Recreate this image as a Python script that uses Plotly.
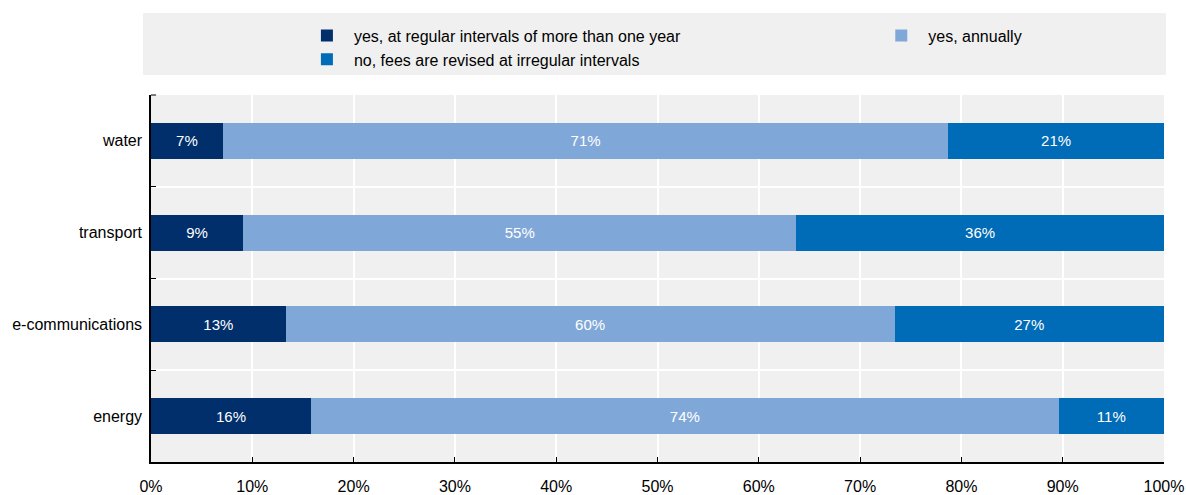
import plotly.graph_objects as go

categories = ["energy", "e-communications", "transport", "water"]
series_names = [
    "yes, at regular intervals of more than one year",
    "yes, annually",
    "no, fees are revised at irregular intervals",
]
regular_multi_year = [15.8, 13.3, 9.1, 7.1]
annually = [73.8, 60.1, 54.6, 71.6]
irregular = [10.4, 26.6, 36.3, 21.3]
labels_regular = ["16%", "13%", "9%", "7%"]
labels_annually = ["74%", "60%", "55%", "71%"]
labels_irregular = ["11%", "27%", "36%", "21%"]
x_ticks = [0, 10, 20, 30, 40, 50, 60, 70, 80, 90, 100]
x_tick_labels = [f"{v}%" for v in x_ticks]

colors = ["#002F6C", "#7FA8D9", "#006BB6"]
legend_ids = ["legend", "legend2", "legend"]
FONT = "Liberation Sans Narrow, Arial Narrow, Liberation Sans, Arial, sans-serif"

fig = go.Figure()
for name, vals, labs, col, lg in zip(
    series_names,
    [regular_multi_year, annually, irregular],
    [labels_regular, labels_annually, labels_irregular],
    colors, legend_ids,
):
    fig.add_trace(go.Bar(
        y=categories, x=vals, name=name, orientation="h",
        marker=dict(color=col, line=dict(width=0)),
        text=labs, textposition="inside", insidetextanchor="middle",
        textfont=dict(color="white", size=15, family=FONT),
        width=0.39, hoverinfo="skip", legend=lg,
    ))

# legend background panel
fig.add_shape(type="rect", xref="paper", yref="paper",
              x0=-0.0079, x1=1.002, y0=1.0545, y1=1.2234,
              fillcolor="#F0F0F0", line=dict(width=0), layer="below")
# top boundary tick on the category axis
fig.add_shape(type="line", xref="paper", yref="paper",
              x0=0, x1=0.005, y0=1, y1=1, line=dict(color="black", width=1))

legend_common = dict(
    orientation="v", yanchor="top", y=1.208,
    bgcolor="rgba(0,0,0,0)", font=dict(size=16, family=FONT),
    traceorder="normal", itemwidth=44, tracegroupgap=0,
)

fig.update_layout(
    barmode="stack",
    width=1186, height=495,
    margin=dict(l=151, r=22, t=95, b=33),
    paper_bgcolor="white",
    plot_bgcolor="#F0F0F0",
    font=dict(family=FONT, size=16, color="#000000"),
    legend=dict(x=0.147, xanchor="left", **legend_common),
    legend2=dict(x=0.714, xanchor="left", **legend_common),
    xaxis=dict(
        range=[0, 100], tickvals=x_ticks, ticktext=x_tick_labels,
        showgrid=True, gridcolor="white", gridwidth=2,
        ticks="inside", ticklen=5, tickcolor="black",
        showline=True, linecolor="black", linewidth=1.5,
        zeroline=False, tickfont=dict(size=16), automargin=False,
        ticklabelstandoff=9,
    ),
    yaxis=dict(
        categoryorder="array", categoryarray=categories,
        tickson="boundaries", ticks="inside", ticklen=5, tickcolor="black",
        showgrid=True, gridcolor="white", gridwidth=2,
        showline=True, linecolor="black", linewidth=1.5,
        tickfont=dict(size=16), automargin=False, ticklabelstandoff=4,
    ),
)

fig.write_html("out.html")
